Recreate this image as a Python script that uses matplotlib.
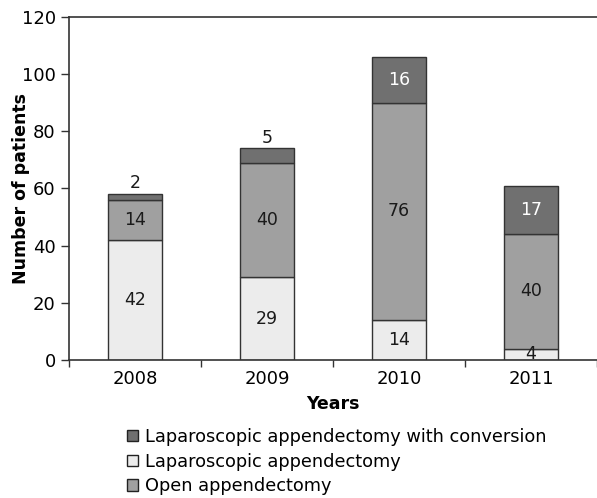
import matplotlib
matplotlib.use("Agg")
import matplotlib.pyplot as plt
import numpy as np

plt.rcParams['font.family'] = ['DejaVu Sans']

years = ['2008', '2009', '2010', '2011']
laparoscopic = [42, 29, 14, 4]
open_app = [14, 40, 76, 40]
conversion = [2, 5, 16, 17]

c_lap = '#ececec'
c_open = '#a0a0a0'
c_conv = '#707070'
edge = '#333333'

fig = plt.figure(figsize=(5.97, 4.98), dpi=100)
ax = fig.add_axes([0.1156, 0.2771, 0.8844, 0.6888])

x = np.arange(len(years))
w = 0.41
b1 = ax.bar(x, laparoscopic, w, color=c_lap, edgecolor=edge, linewidth=1,
            label='Laparoscopic appendectomy')
b2 = ax.bar(x, open_app, w, bottom=laparoscopic, color=c_open, edgecolor=edge,
            linewidth=1, label='Open appendectomy')
bottom3 = np.array(laparoscopic) + np.array(open_app)
b3 = ax.bar(x, conversion, w, bottom=bottom3, color=c_conv, edgecolor=edge,
            linewidth=1, label='Laparoscopic appendectomy with conversion')

fs = 13
vfs = 12.5
for i in range(len(years)):
    ax.text(x[i], laparoscopic[i] / 2, str(laparoscopic[i]), ha='center',
            va='center', fontsize=vfs, color='#1a1a1a')
    ax.text(x[i], laparoscopic[i] + open_app[i] / 2, str(open_app[i]),
            ha='center', va='center', fontsize=vfs, color='#1a1a1a')
    top = bottom3[i] + conversion[i]
    if conversion[i] < 8:
        # small segment: label sits above the bar
        ax.text(x[i], top + 0.6, str(conversion[i]), ha='center', va='bottom',
                fontsize=vfs, color='#1a1a1a')
    else:
        ax.text(x[i], bottom3[i] + conversion[i] / 2, str(conversion[i]),
                ha='center', va='center', fontsize=vfs, color='white')

ax.set_xlim(-0.5, 3.5)
ax.set_ylim(0, 120)
ax.set_yticks(range(0, 121, 20))
ax.set_xticks(x)
ax.set_xticklabels(years)
ax.set_xticks(np.arange(-0.5, 4, 1), minor=True)
ax.tick_params(axis='x', which='major', length=0, labelsize=fs, pad=7)
ax.tick_params(axis='x', which='minor', length=5, width=1, color='#333333')
ax.tick_params(axis='y', length=6, width=1, color='#333333', labelsize=fs)

for s in ['left', 'bottom', 'top']:
    ax.spines[s].set_color('#333333')
    ax.spines[s].set_linewidth(1.2)
ax.spines['right'].set_visible(False)

ax.set_ylabel('Number of patients', fontsize=12.5, fontweight='bold', labelpad=-6)
ax.set_xlabel('Years', fontsize=12.5, fontweight='bold', labelpad=5)

leg = fig.legend(handles=[b3, b1, b2], loc='upper left',
                 bbox_to_anchor=(0.2127, 0.141), frameon=False, fontsize=12.8,
                 handlelength=0.6, handleheight=0.6, handletextpad=0.4,
                 labelspacing=0.38, borderaxespad=0, borderpad=0)
for h in leg.legend_handles:
    h.set_edgecolor('#222222')

fig.savefig('out.png', dpi=100)
